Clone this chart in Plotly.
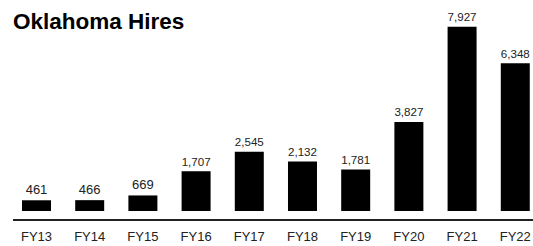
import plotly.graph_objects as go

categories = ["FY13", "FY14", "FY15", "FY16", "FY17", "FY18", "FY19", "FY20", "FY21", "FY22"]
hires = [461, 466, 669, 1707, 2545, 2132, 1781, 3827, 7927, 6348]
labels = [f"{v:,}" for v in hires]

W, H = 533, 246
ml, mr, mt, mb = 13, 0, 20, 27
k = 43.0  # units per pixel
plot_h = H - mt - mb
ymin = -8 * k
ymax = ymin + plot_h * k

fig = go.Figure(go.Bar(
    x=list(range(len(categories))),
    y=hires,
    text=labels,
    textposition="outside",
    cliponaxis=False,
    hoverinfo="skip",
    marker=dict(color="black", line=dict(width=0)),
    width=0.545,
    textfont=dict(family="Liberation Sans, Arial", size=13, color="#222"),
))

fig.update_layout(
    width=W, height=H,
    margin=dict(l=ml, r=mr, t=mt, b=mb),
    plot_bgcolor="white", paper_bgcolor="white",
    showlegend=False,
    title=dict(text="<b>Oklahoma Hires</b>", xref="container", yref="container",
               x=13 / W, xanchor="left", y=1 - 13 / H, yanchor="top",
               font=dict(family="Liberation Sans, Arial", size=22.5, color="black")),
    xaxis=dict(tickmode="array", tickvals=list(range(len(categories))), ticktext=categories,
               range=[-0.4417, 9.333], showline=True, linecolor="#222", linewidth=2,
               ticks="", showgrid=False, zeroline=False, ticklabelstandoff=4,
               tickfont=dict(family="Liberation Sans, Arial", size=13, color="#222")),
    yaxis=dict(range=[ymin, ymax], visible=False, showgrid=False, zeroline=False),
    font=dict(family="Liberation Sans, Arial"),
)

fig.write_html(
    "out.html",
    config={"displayModeBar": False},
    post_script="document.body.style.margin='0';document.documentElement.style.overflow='hidden';document.body.style.overflow='hidden';",
)
